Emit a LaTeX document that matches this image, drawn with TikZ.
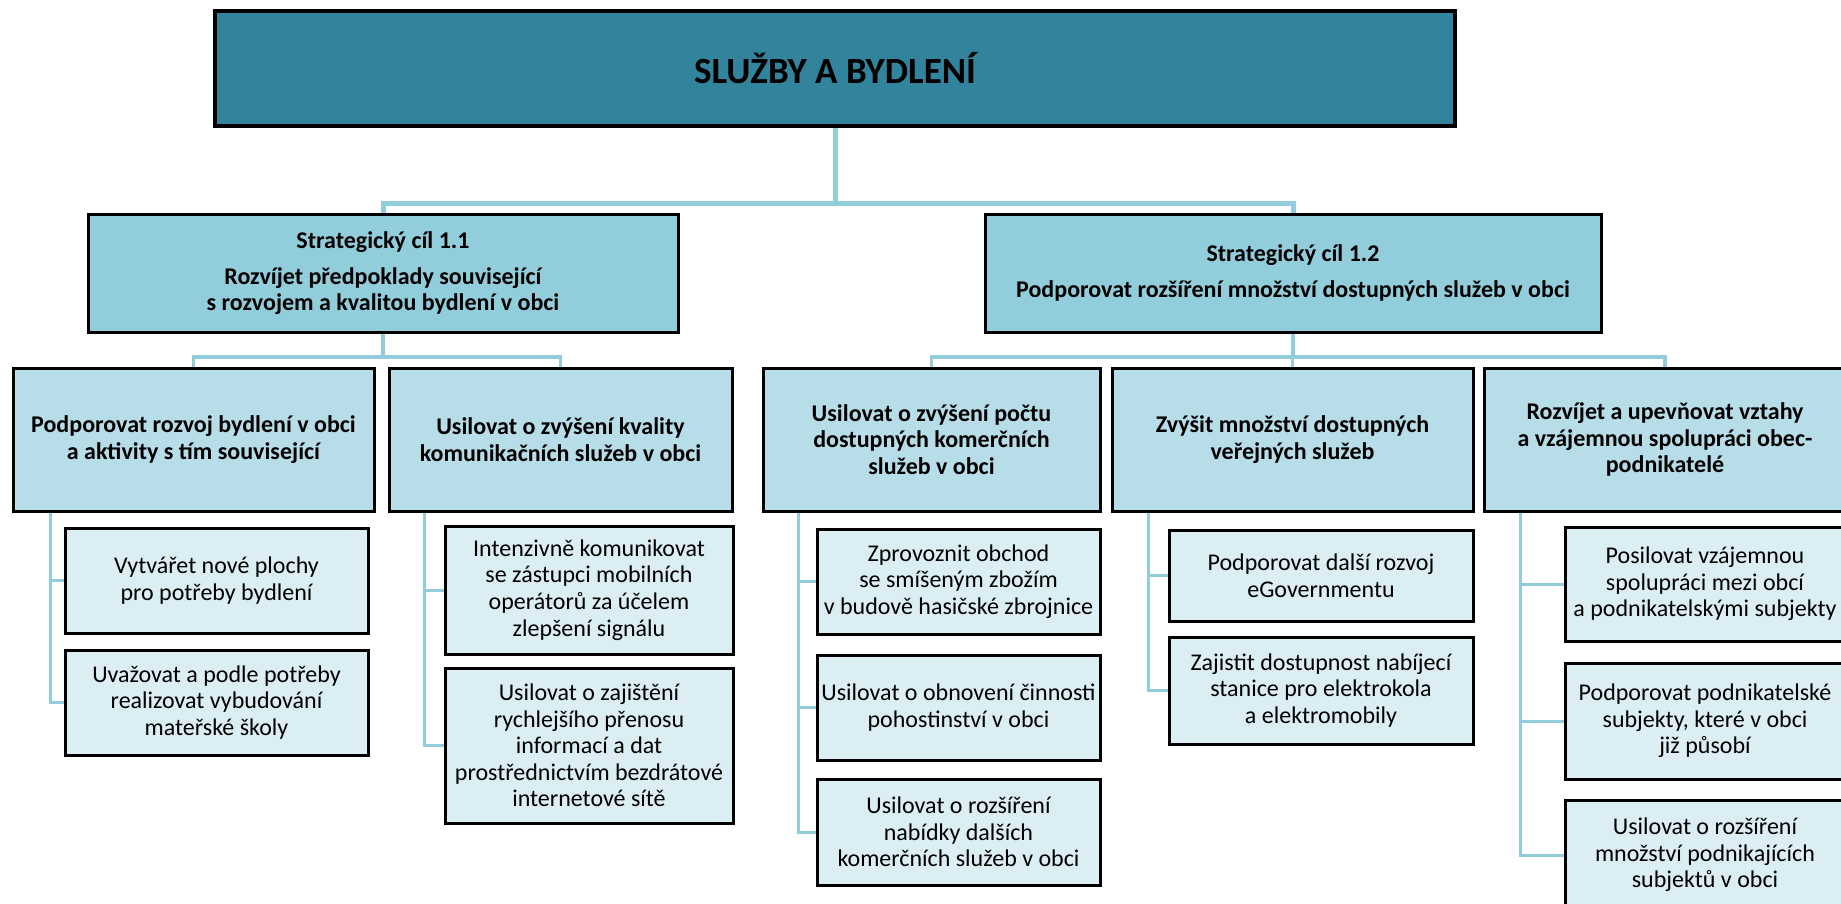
\documentclass[tikz,border=0pt]{standalone}
\usepackage{fontspec}
\setmainfont{Carlito}
\usetikzlibrary{backgrounds}

\definecolor{titlefill}{HTML}{31849B}
\definecolor{goalfill}{HTML}{92CDDC}
\definecolor{areafill}{HTML}{B7DDE8}
\definecolor{taskfill}{HTML}{DAEEF3}
\definecolor{linkcol}{HTML}{92CDDC}

\tikzset{
  box/.style={draw=black, line width=1.5pt, align=center, inner sep=0pt},
  titlebox/.style={box, line width=1.8pt, fill=titlefill,
    font=\fontsize{18.5}{21}\selectfont\bfseries,
    minimum width=620pt, minimum height=57.5pt},
  goalbox/.style={box, fill=goalfill,
    font=\fontsize{12}{13}\selectfont\bfseries, minimum height=59pt},
  areabox/.style={box, fill=areafill,
    font=\fontsize{12}{13.3}\selectfont\bfseries, minimum height=71.5pt},
  taskbox/.style={box, fill=taskfill,
    font=\fontsize{12}{13.3}\selectfont},
  trunk/.style={draw=linkcol, line width=2.5pt},
  branch/.style={draw=linkcol, line width=1.8pt},
  twig/.style={draw=linkcol, line width=1.5pt}
}

\begin{document}
\begin{tikzpicture}[x=0.5pt,y=-0.5pt]
  \useasboundingbox (0,0) rectangle (1841,904);

  % main topic
  \node[titlebox] (top) at (835,68.5) {SLUŽBY A BYDLENÍ};

  % strategic goals
  \node[goalbox, minimum width=295pt] (g1) at (383,273)
    {Strategický cíl 1.1\\[5pt]Rozvíjet předpoklady související\\s rozvojem a kvalitou bydlení v obci};
  \node[goalbox, minimum width=308pt] (g2) at (1293,273)
    {Strategický cíl 1.2\\[5pt]Podporovat rozšíření množství dostupných služeb v obci};

  % specific goals
  \node[areabox, minimum width=180.5pt] (a) at (193.5,439.5)
    {Podporovat rozvoj bydlení v obci\\a aktivity s tím související};
  \node[areabox, minimum width=171.5pt] (b) at (560.5,439.5)
    {Usilovat o zvýšení kvality\\komunikačních služeb v obci};
  \node[areabox, minimum width=168.5pt] (c) at (931.5,439.5)
    {Usilovat o zvýšení počtu\\dostupných komerčních\\služeb v obci};
  \node[areabox, minimum width=180.5pt] (d) at (1292.5,439.5)
    {Zvýšit množství dostupných\\veřejných služeb};
  \node[areabox, minimum width=181pt] (e) at (1665,439.5)
    {Rozvíjet a upevňovat vztahy\\a vzájemnou spolupráci obec-\\podnikatelé};

  % measures
  \node[taskbox, minimum width=151.5pt, minimum height=52.5pt] (a1) at (216.5,580.5)
    {Vytvářet nové plochy\\pro potřeby bydlení};
  \node[taskbox, minimum width=151.5pt, minimum height=52.5pt] (a2) at (216.5,702.5)
    {Uvažovat a podle potřeby\\realizovat vybudování\\mateřské školy};

  \node[taskbox, minimum width=144pt, minimum height=64pt] (b1) at (589,590)
    {Intenzivně komunikovat\\se zástupci mobilních\\operátorů za účelem\\zlepšení signálu};
  \node[taskbox, minimum width=144pt, minimum height=77.5pt] (b2) at (589,745.5)
    {Usilovat o zajištění\\rychlejšího přenosu\\informací a dat\\prostřednictvím bezdrátové\\internetové sítě};

  \node[taskbox, minimum width=141.5pt, minimum height=52.5pt] (c1) at (958.5,581.5)
    {Zprovoznit obchod\\se smíšeným zbožím\\v budově hasičské zbrojnice};
  \node[taskbox, minimum width=141.5pt, minimum height=52.5pt] (c2) at (958.5,707.5)
    {Usilovat o obnovení činnosti\\pohostinství v obci};
  \node[taskbox, minimum width=141.5pt, minimum height=53pt] (c3) at (958.5,832)
    {Usilovat o rozšíření\\nabídky dalších\\komerčních služeb v obci};

  \node[taskbox, minimum width=152pt, minimum height=45.5pt] (d1) at (1321,575.5)
    {Podporovat další rozvoj\\eGovernmentu};
  \node[taskbox, minimum width=152pt, minimum height=53.5pt] (d2) at (1321,690.5)
    {Zajistit dostupnost nabíjecí\\stanice pro elektrokola\\a elektromobily};

  \node[taskbox, minimum width=140pt, minimum height=57pt] (e1) at (1705,584)
    {Posilovat vzájemnou\\spolupráci mezi obcí\\a podnikatelskými subjekty};
  \node[taskbox, minimum width=140pt, minimum height=58pt] (e2) at (1705,721)
    {Podporovat podnikatelské\\subjekty, které v obci\\již působí};
  \node[taskbox, minimum width=140pt, minimum height=55pt] (e3) at (1705,855)
    {Usilovat o rozšíření\\množství podnikajících\\subjektů v obci};

  \begin{scope}[on background layer]
    \draw[trunk] (top.south) -- (top.south |- 0,203) -| (g1.north);
    \draw[trunk] (top.south |- 0,203) -| (g2.north);

    \draw[branch] (g1.south) -- (g1.south |- 0,357) -| (a.north);
    \draw[branch] (g1.south |- 0,357) -| (b.north);
    \draw[branch] (g2.south) -- (g2.south |- 0,357) -| (c.north);
    \draw[branch] (g2.south |- 0,357) -| (d.north);
    \draw[branch] (g2.south |- 0,357) -| (e.north);

    \draw[twig] (a.south -| 50,0) |- (a1.west);
    \draw[twig] (a.south -| 50,0) |- (a2.west);
    \draw[twig] (b.south -| 424,0) |- (b1.west);
    \draw[twig] (b.south -| 424,0) |- (b2.west);
    \draw[twig] (c.south -| 798,0) |- (c1.west);
    \draw[twig] (c.south -| 798,0) |- (c2.west);
    \draw[twig] (c.south -| 798,0) |- (c3.west);
    \draw[twig] (d.south -| 1148,0) |- (d1.west);
    \draw[twig] (d.south -| 1148,0) |- (d2.west);
    \draw[twig] (e.south -| 1520,0) |- (e1.west);
    \draw[twig] (e.south -| 1520,0) |- (e2.west);
    \draw[twig] (e.south -| 1520,0) |- (e3.west);
  \end{scope}
\end{tikzpicture}
\end{document}
